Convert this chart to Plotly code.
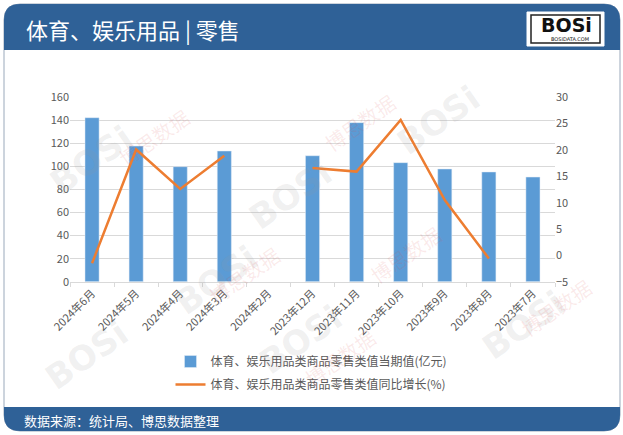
import plotly.graph_objects as go

categories = ["2024年6月", "2024年5月", "2024年4月", "2024年3月", "2024年2月",
              "2023年12月", "2023年11月", "2023年10月", "2023年9月", "2023年8月", "2023年7月"]
retail_value = [142.3, 117.7, 99.8, 113.4, None, 109.3, 138.0, 103.3, 97.8, 95.2, 90.8]
yoy_growth = [-1.5, 20.1, 12.6, 18.9, None, 16.6, 15.9, 25.7, 10.5, -0.6, None]

name_bar = "体育、娱乐用品类商品零售类值当期值(亿元)"
name_line = "体育、娱乐用品类商品零售类值同比增长(%)"
title_text = "体育、娱乐用品 | 零售"
source_text = "数据来源：统计局、博思数据整理"

W, H = 623, 435
FONT = "Microsoft YaHei, Noto Sans CJK SC, sans-serif"
BLUE_HDR = "#2f6197"

fig = go.Figure()
fig.add_trace(go.Bar(x=categories, y=retail_value, name=name_bar,
                     marker_color="#5b9bd5", yaxis="y", legendgroup="a"))
fig.add_trace(go.Scatter(x=categories, y=yoy_growth, name=name_line, mode="lines",
                         line=dict(color="#ed7d31", width=2.5), yaxis="y2",
                         connectgaps=False, legendgroup="b"))

def px(x):
    return x / W

def py(y):
    return 1 - y / H

shapes = []
# card border
shapes.append(dict(type="path", xref="paper", yref="paper",
                   path=f"M {px(4)},{py(20)} L {px(4)},{py(415)} Q {px(4)},{py(431)} {px(20)},{py(431)} "
                        f"L {px(604)},{py(431)} Q {px(620)},{py(431)} {px(620)},{py(415)} "
                        f"L {px(620)},{py(20)} Q {px(620)},{py(4)} {px(604)},{py(4)} L {px(20)},{py(4)} "
                        f"Q {px(4)},{py(4)} {px(4)},{py(20)} Z",
                   line=dict(color="#9aa9bb", width=1), fillcolor="rgba(0,0,0,0)", layer="below"))
# header band
shapes.append(dict(type="path", xref="paper", yref="paper",
                   path=f"M {px(4)},{py(50)} L {px(4)},{py(20)} Q {px(4)},{py(4)} {px(20)},{py(4)} "
                        f"L {px(604)},{py(4)} Q {px(620)},{py(4)} {px(620)},{py(20)} L {px(620)},{py(50)} Z",
                   line=dict(width=0), fillcolor=BLUE_HDR, layer="below"))
# footer band
shapes.append(dict(type="path", xref="paper", yref="paper",
                   path=f"M {px(4)},{py(407)} L {px(620)},{py(407)} L {px(620)},{py(415)} "
                        f"Q {px(620)},{py(431)} {px(604)},{py(431)} L {px(20)},{py(431)} "
                        f"Q {px(4)},{py(431)} {px(4)},{py(415)} Z",
                   line=dict(width=0), fillcolor=BLUE_HDR, layer="below"))
# logo box
shapes.append(dict(type="rect", xref="paper", yref="paper",
                   x0=px(527), x1=px(604), y0=py(46), y1=py(12),
                   line=dict(color="#ffffff", width=1), fillcolor="#ffffff", layer="below"))
shapes.append(dict(type="rect", xref="paper", yref="paper",
                   x0=px(531), x1=px(600), y0=py(43), y1=py(15),
                   line=dict(color="#222222", width=1.5), fillcolor="#ffffff", layer="below"))

annotations = [
    dict(text=title_text, x=px(24), y=py(29), xref="paper", yref="paper", xanchor="left",
         yanchor="middle", showarrow=False, font=dict(family=FONT, size=22, color="white")),
    dict(text=source_text, x=px(22), y=py(420), xref="paper", yref="paper", xanchor="left",
         yanchor="middle", showarrow=False, font=dict(family=FONT, size=13, color="white")),
    dict(text="<b>BOSi</b>", x=px(566), y=py(25), xref="paper", yref="paper", xanchor="center",
         yanchor="middle", showarrow=False, font=dict(family="DejaVu Sans", size=19, color="#111111")),
    dict(text="BOSIDATA.COM", x=px(570), y=py(39), xref="paper", yref="paper", xanchor="center",
         yanchor="middle", showarrow=False, font=dict(family="DejaVu Sans", size=5, color="#111111")),
]

# faint watermarks
for (wx, wy) in [(40, 160), (290, 195), (490, 75), (300, 385), (35, 400), (575, 370), (165, 280)]:
    annotations.append(dict(text="<b>BOSi</b>", x=px(wx), y=py(wy), xref="paper", yref="paper",
                            showarrow=False, textangle=-35,
                            font=dict(family="DejaVu Sans", size=34, color="rgba(150,150,150,0.14)")))
for (wx, wy) in [(110, 100), (360, 85), (200, 275), (450, 255), (340, 395), (600, 345)]:
    annotations.append(dict(text="博思数据", x=px(wx), y=py(wy), xref="paper", yref="paper",
                            showarrow=False, textangle=-35,
                            font=dict(family=FONT, size=20, color="rgba(220,80,80,0.12)")))

fig.update_layout(
    width=W, height=H,
    margin=dict(l=0, r=0, t=0, b=0, autoexpand=False),
    paper_bgcolor="white", plot_bgcolor="rgba(0,0,0,0)",
    font=dict(family=FONT, size=12, color="#595959"),
    bargap=0.68,
    showlegend=True,
    legend=dict(x=0.5, xanchor="center", y=py(347), yanchor="top", orientation="v",
                font=dict(family=FONT, size=12, color="#595959"), tracegroupgap=4,
                bgcolor="rgba(0,0,0,0)"),
    xaxis=dict(domain=[px(70), px(555)], type="category", categoryorder="array",
               categoryarray=categories, tickangle=-45, showgrid=False,
               showline=True, linecolor="#d9d9d9", ticks="outside", tickson="boundaries",
               ticklen=4, tickcolor="#d9d9d9", tickfont=dict(size=11, color="#595959")),
    yaxis=dict(domain=[py(281.7), py(97.3)], range=[0, 160], dtick=20, showgrid=True,
               gridcolor="#d9d9d9", zeroline=False, showline=False, ticks="",
               tickfont=dict(size=11, color="#595959")),
    yaxis2=dict(overlaying="y", side="right", range=[-5, 30], dtick=5, showgrid=False,
                zeroline=False, showline=False, ticks="", anchor="x",
                tickfont=dict(size=11, color="#595959")),
    shapes=shapes,
    annotations=annotations,
)

fig.write_html("out.html", config={"displayModeBar": False},
               post_script="document.body.style.margin='0';document.body.style.overflow='hidden';")
